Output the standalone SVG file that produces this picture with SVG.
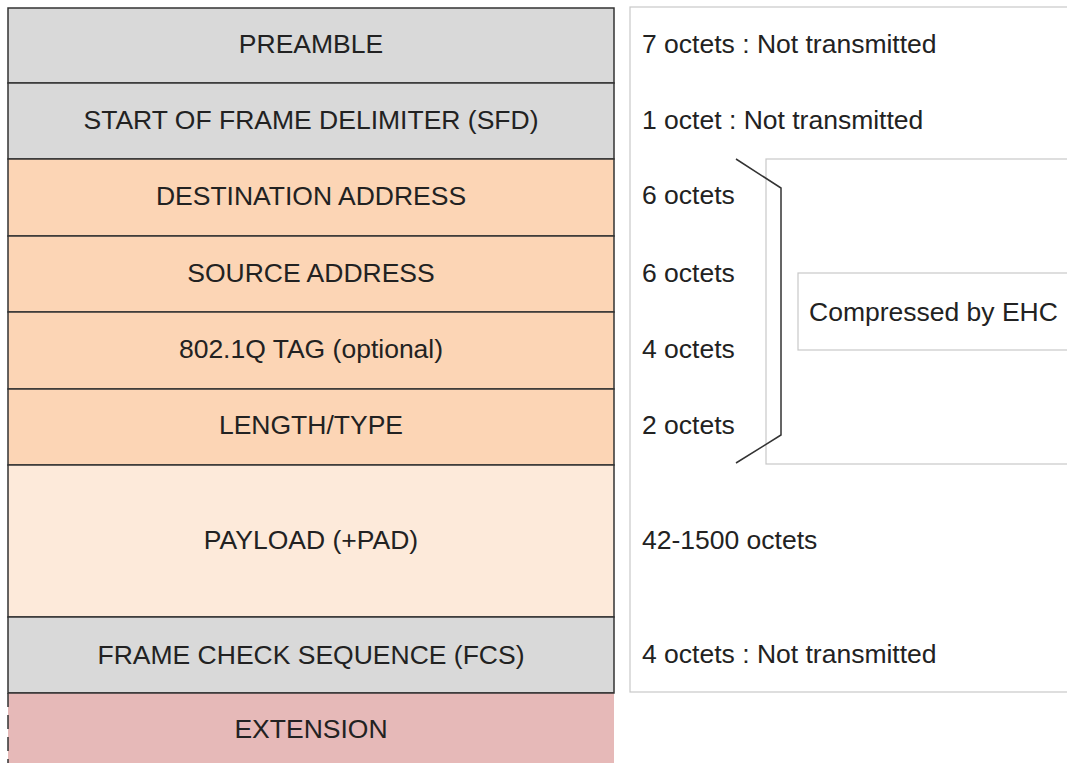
<svg xmlns="http://www.w3.org/2000/svg" width="1067" height="763" viewBox="0 0 1067 763">
<style>
.row{stroke:#333;stroke-width:1.5}
.gray{fill:#d9d9d9}
.org{fill:#fcd5b5}
.pay{fill:#fdeada}
.ext{fill:#e6b9b8}
.lbl{font-family:"Liberation Sans",Arial,sans-serif;font-size:26.5px;fill:#222;text-anchor:middle}
.rt{font-family:"Liberation Sans",Arial,sans-serif;font-size:26.5px;fill:#222}
.panel{fill:#fff;stroke:#c8c8c8;stroke-width:1.2}
</style>
<rect width="1067" height="763" fill="#fff"/>
<g id="panel">
<rect class="panel" x="630" y="7" width="460" height="685"/>
<rect class="panel" x="766" y="159" width="320" height="305"/>
</g>
<g id="ehc">
<rect class="panel" x="798" y="273" width="290" height="77"/>
<text class="rt" x="809" y="321">Compressed by EHC</text>
</g>
<g id="preamble"><rect class="row gray" x="8" y="8" width="606" height="75"/><text class="lbl" x="311" y="53">PREAMBLE</text></g>
<g id="sfd"><rect class="row gray" x="8" y="83" width="606" height="76"/><text class="lbl" x="311" y="129">START OF FRAME DELIMITER (SFD)</text></g>
<g id="dest"><rect class="row org" x="8" y="159" width="606" height="77"/><text class="lbl" x="311" y="205">DESTINATION ADDRESS</text></g>
<g id="src"><rect class="row org" x="8" y="236" width="606" height="76"/><text class="lbl" x="311" y="282">SOURCE ADDRESS</text></g>
<g id="tag"><rect class="row org" x="8" y="312" width="606" height="77"/><text class="lbl" x="311" y="358">802.1Q TAG (optional)</text></g>
<g id="lentype"><rect class="row org" x="8" y="389" width="606" height="76"/><text class="lbl" x="311" y="434">LENGTH/TYPE</text></g>
<g id="payload"><rect class="row pay" x="8" y="465" width="606" height="152"/><text class="lbl" x="311" y="549">PAYLOAD (+PAD)</text></g>
<g id="fcs"><rect class="row gray" x="8" y="617" width="606" height="76"/><text class="lbl" x="311" y="664">FRAME CHECK SEQUENCE (FCS)</text></g>
<g id="extension"><rect class="ext" x="8" y="693" width="606" height="72"/><line x1="8" y1="693" x2="8" y2="763" stroke="#333" stroke-width="1.5" stroke-dasharray="14 8"/><line x1="8" y1="693" x2="614" y2="693" stroke="#333" stroke-width="1.5"/><text class="lbl" x="311" y="738">EXTENSION</text></g>
<g id="sizes">
<text class="rt" x="642" y="53">7 octets : Not transmitted</text>
<text class="rt" x="642" y="129">1 octet : Not transmitted</text>
<text class="rt" x="642" y="204">6 octets</text>
<text class="rt" x="642" y="282">6 octets</text>
<text class="rt" x="642" y="358">4 octets</text>
<text class="rt" x="642" y="434">2 octets</text>
<text class="rt" x="642" y="549">42-1500 octets</text>
<text class="rt" x="642" y="663">4 octets : Not transmitted</text>
</g>
<g id="connectors">
<polyline points="736,159 781,188 781,435 736,463" fill="none" stroke="#333" stroke-width="1.5"/>
</g>
</svg>
